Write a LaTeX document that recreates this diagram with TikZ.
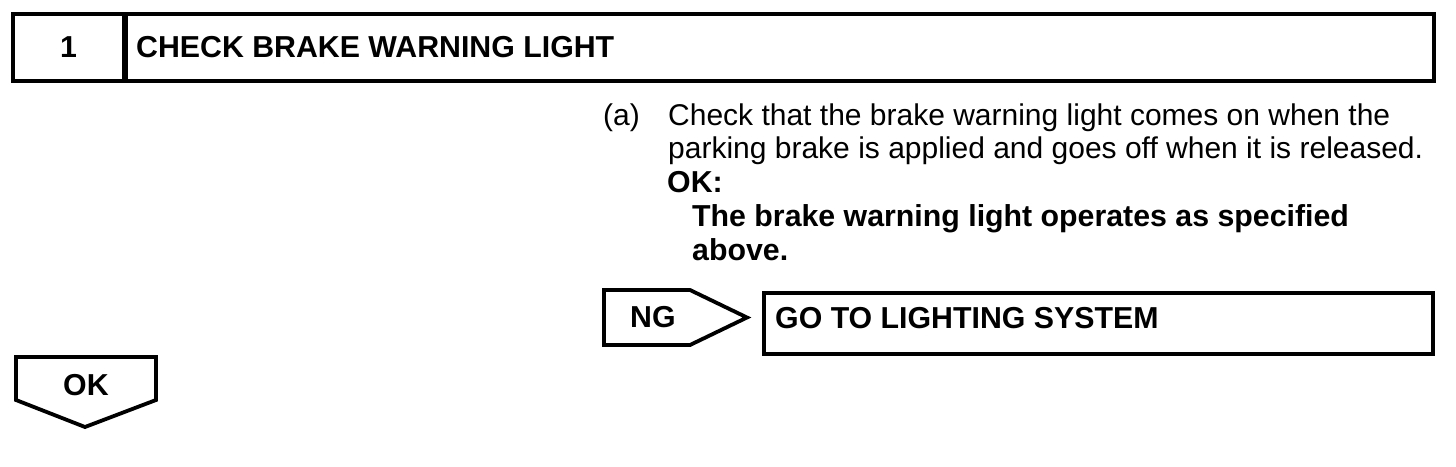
\documentclass[tikz,border=0pt]{standalone}
\usepackage{fontspec}
\setmainfont{Liberation Sans}
\begin{document}
\begin{tikzpicture}[x=1pt,y=-1pt,line join=miter]
\tikzset{
  frame/.style={draw,line width=3.8pt,inner sep=0pt},
  body/.style={font=\fontsize{30}{36}\selectfont,inner sep=0pt,anchor=base west},
  bodyb/.style={font=\fontsize{30.3}{36}\selectfont\bfseries,inner sep=0pt,anchor=base west},
}
\useasboundingbox (0,0) rectangle (1456,466);
% header
\node[frame,minimum width=111pt,minimum height=67pt] (num) at (68.5,47.5) {};
\node[frame,minimum width=1308pt,minimum height=67pt,anchor=west] (title) at (124,47.5) {};
\node[bodyb,anchor=base] (numtxt) at (68.5,57) {1};
\node[bodyb] (titletxt) at (136,57) {CHECK BRAKE WARNING LIGHT};
% step text
\node[body] (item) at (603,125) {(a)};
\node[body] (l1) at (668,125) {Check that the brake warning light comes on when the};
\node[body] (l2) at (668,158) {parking brake is applied and goes off when it is released.};
\node[bodyb] (okl) at (667,192) {OK:};
\node[bodyb] (l4) at (692,226) {The brake warning light operates as specified};
\node[bodyb] (l5) at (692,260) {above.};
% NG branch
\coordinate (ng1) at (604,290);
\coordinate (ng2) at (690,290);
\coordinate (ngtip) at (747,317.5);
\coordinate (ng3) at (690,345);
\coordinate (ng4) at (604,345);
\draw[line width=3.8pt] (ng1) -- (ng2) -- (ngtip) -- (ng3) -- (ng4) -- cycle;
\node[bodyb] (ngtxt) at (630,327) {NG};
\node[frame,minimum width=669pt,minimum height=61pt,anchor=north west] (goto) at (762,291) {};
\node[bodyb] (gototxt) at (775,328) {GO TO LIGHTING SYSTEM};
% OK branch
\coordinate (ok1) at (16,357);
\coordinate (ok2) at (156,357);
\coordinate (ok3) at (156,400);
\coordinate (oktip) at (85,427);
\coordinate (ok4) at (16,400);
\draw[line width=3.8pt] (ok1) -- (ok2) -- (ok3) -- (oktip) -- (ok4) -- cycle;
\node[bodyb] (oktxt) at (63,395) {OK};
\end{tikzpicture}
\end{document}
